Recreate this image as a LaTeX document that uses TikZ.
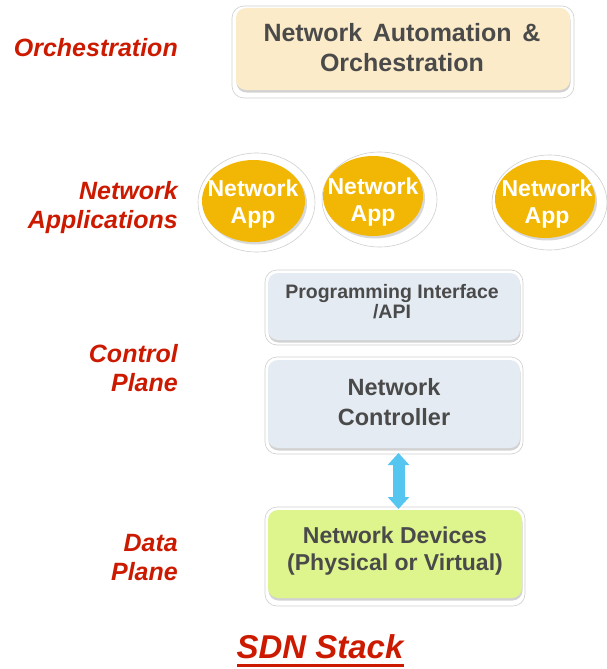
\documentclass[tikz,border=0pt]{standalone}
\usepackage{fontspec}
\setmainfont{Liberation Sans}
\usetikzlibrary{shadows,arrows.meta,calc,shapes.geometric}
\definecolor{lblred}{HTML}{CC1A00}
\definecolor{boxtext}{HTML}{4A4A4A}
\definecolor{orchfill}{HTML}{FBEBC9}
\definecolor{ctrlfill}{HTML}{E5EBF2}
\definecolor{devfill}{HTML}{DEF48C}
\definecolor{appfill}{HTML}{F2B705}
\definecolor{arrowblue}{HTML}{55C6F0}
\definecolor{haloline}{HTML}{CFCFCF}
\tikzset{
  layerlbl/.style={text=lblred, font=\bfseries\itshape\fontsize{25}{29}\selectfont,
    align=right, anchor=east, inner sep=0pt},
  halo/.style={fill=white, draw=haloline, line width=0.6pt, rounded corners=12pt},
  layerbox/.style={rounded corners=10pt, draw=none,
    drop shadow={shadow xshift=0.5pt, shadow yshift=-2.5pt, opacity=0.35, fill=gray}},
  boxlbl/.style={text=boxtext, align=center, inner sep=0pt},
  apphalo/.style={fill=white, draw=haloline, line width=0.6pt},
  appshape/.style={fill=appfill,
    drop shadow={shadow xshift=2pt, shadow yshift=-2.5pt, opacity=0.3, fill=gray}},
  applbl/.style={text=white, align=center, inner sep=0pt,
    font=\bfseries\fontsize{23}{27}\selectfont},
}
\begin{document}
\begin{tikzpicture}[x=1pt,y=-1pt]
\useasboundingbox (0,0) rectangle (607,669);

% left-hand layer labels
\node[layerlbl] (lorch) at (178,48) {Orchestration};
\node[layerlbl] (lapps) at (178,207.5) {Network\\Applications};
\node[layerlbl] (lctrl) at (178,368) {Control\\Plane};
\node[layerlbl] (ldata) at (178,557.5) {Data\\Plane};

% orchestration layer
\draw[halo] (232,6) rectangle (574,98);
\path[layerbox, fill=orchfill] (236,8) rectangle (570,90);
\node[boxlbl, font=\bfseries\fontsize{25}{30}\selectfont]
  (orch) at (402,48) {Network\hspace{0.15em} Automation\hspace{0.15em} \&\\Orchestration};

% application layer
\path[apphalo] (256.5,202.5) ellipse [x radius=58.5, y radius=49.5];
\path[apphalo] (379.5,199.5) ellipse [x radius=57.5, y radius=47.5];
\path[apphalo] (549.5,202.5) ellipse [x radius=57.5, y radius=47.5];
\path[appshape] (253.5,201) ellipse [x radius=51.5, y radius=41];
\path[appshape] (373,196) ellipse [x radius=50, y radius=40];
\path[appshape] (545,199) ellipse [x radius=50, y radius=39];
\node[applbl] (app1) at (253,204.5) {Network\\App};
\node[applbl] (app2) at (373,202.5) {Network\\App};
\node[applbl] (app3) at (547,204) {Network\\App};

% control plane: API and controller
\draw[halo] (265,270) rectangle (523,345);
\path[layerbox, fill=ctrlfill] (268,273) rectangle (520,340);
\node[boxlbl, font=\bfseries\fontsize{19.5}{20}\selectfont]
  (api) at (392,302) {Programming Interface\\/API};

\draw[halo] (265,357) rectangle (523,454);
\path[layerbox, fill=ctrlfill] (268,360) rectangle (520,448);
\node[boxlbl, font=\bfseries\fontsize{23.5}{30}\selectfont]
  (ctrl) at (394,402) {Network\\Controller};

% data plane
\draw[halo] (265,507) rectangle (525,606);
\path[layerbox, fill=devfill] (268,510) rectangle (522,598);
\node[boxlbl, font=\bfseries\fontsize{23}{27}\selectfont]
  (dev) at (395,551.5) {Network Devices\\(Physical or Virtual)};

% controller <-> devices link
\coordinate (ctop) at (398.5,453);
\coordinate (cbot) at (398.5,509);
\draw[arrowblue, line width=12pt,
  {Triangle[width=21pt,length=12pt]}-{Triangle[width=21pt,length=12pt]}] (ctop) -- (cbot);

% caption
\node[text=lblred, font=\bfseries\itshape\fontsize{33}{36}\selectfont, inner sep=0pt]
  (cap) at (320,647) {SDN Stack};
\coordinate (ul1) at (237,665);
\coordinate (ul2) at (404,665);
\draw[lblred, line width=3pt] (ul1) -- (ul2);
\end{tikzpicture}
\end{document}
